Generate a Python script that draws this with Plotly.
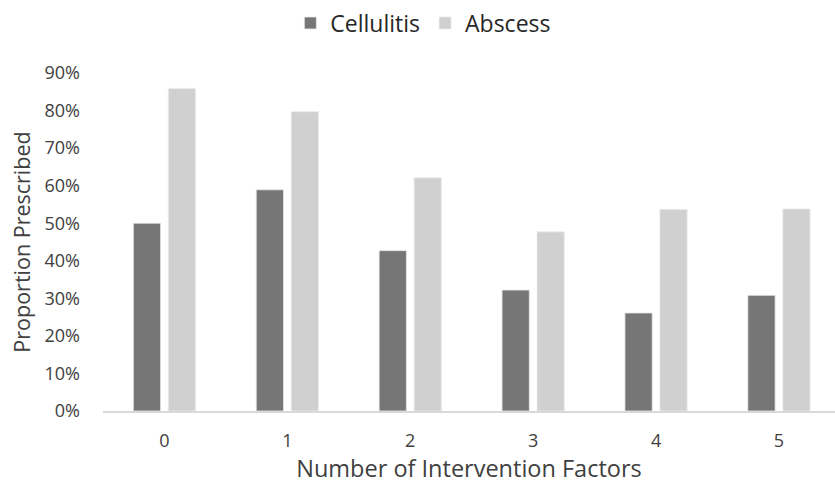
import plotly.graph_objects as go

# Share of patients prescribed, by number of intervention factors
factors = ["0", "1", "2", "3", "4", "5"]
cellulitis = [0.50, 0.589, 0.427, 0.322, 0.261, 0.308]
abscess = [0.859, 0.797, 0.621, 0.477, 0.537, 0.538]
y_ticks = [0, 0.1, 0.2, 0.3, 0.4, 0.5, 0.6, 0.7, 0.8, 0.9]

FONT = "Open Sans, Calibri, sans-serif"
TEXT = "#404040"

fig = go.Figure()
fig.add_trace(go.Bar(
    name="Cellulitis", x=factors, y=cellulitis,
    marker=dict(color="#767676", line=dict(color="#e8e8e8", width=0.8)),
))
fig.add_trace(go.Bar(
    name="Abscess", x=factors, y=abscess,
    marker=dict(color="#d0d0d0", line=dict(color="#ececec", width=0.8)),
))

fig.update_layout(
    width=835, height=490,
    margin=dict(l=103, r=0, t=73, b=79),
    paper_bgcolor="white", plot_bgcolor="white",
    barmode="group", bargap=0.431, bargroupgap=0.22,
    font=dict(family=FONT, color=TEXT, size=18),
    legend=dict(
        orientation="h", xref="container", yref="container",
        x=0.507, xanchor="center", y=0.953, yanchor="middle",
        font=dict(size=23, color="#262626"), traceorder="normal",
        itemwidth=30,
    ),
    xaxis=dict(
        type="category", range=[-0.5, 5.456],
        showgrid=False, showline=True, linecolor="#d9d9d9", linewidth=1.5,
        ticks="", ticklabelstandoff=13,
        tickfont=dict(size=18, color=TEXT),
        title=dict(text="Number of Intervention Factors",
                   font=dict(size=23.5, color=TEXT), standoff=9),
    ),
    yaxis=dict(
        range=[0, 0.9], tickvals=y_ticks, tickformat=".0%",
        showgrid=False, zeroline=False, showline=False, ticks="",
        ticklabelstandoff=22,
        tickfont=dict(size=18, color=TEXT),
        title=dict(text="Proportion Prescribed",
                   font=dict(size=21.5, color=TEXT), standoff=8),
    ),
)

fig.write_html("out.html")
